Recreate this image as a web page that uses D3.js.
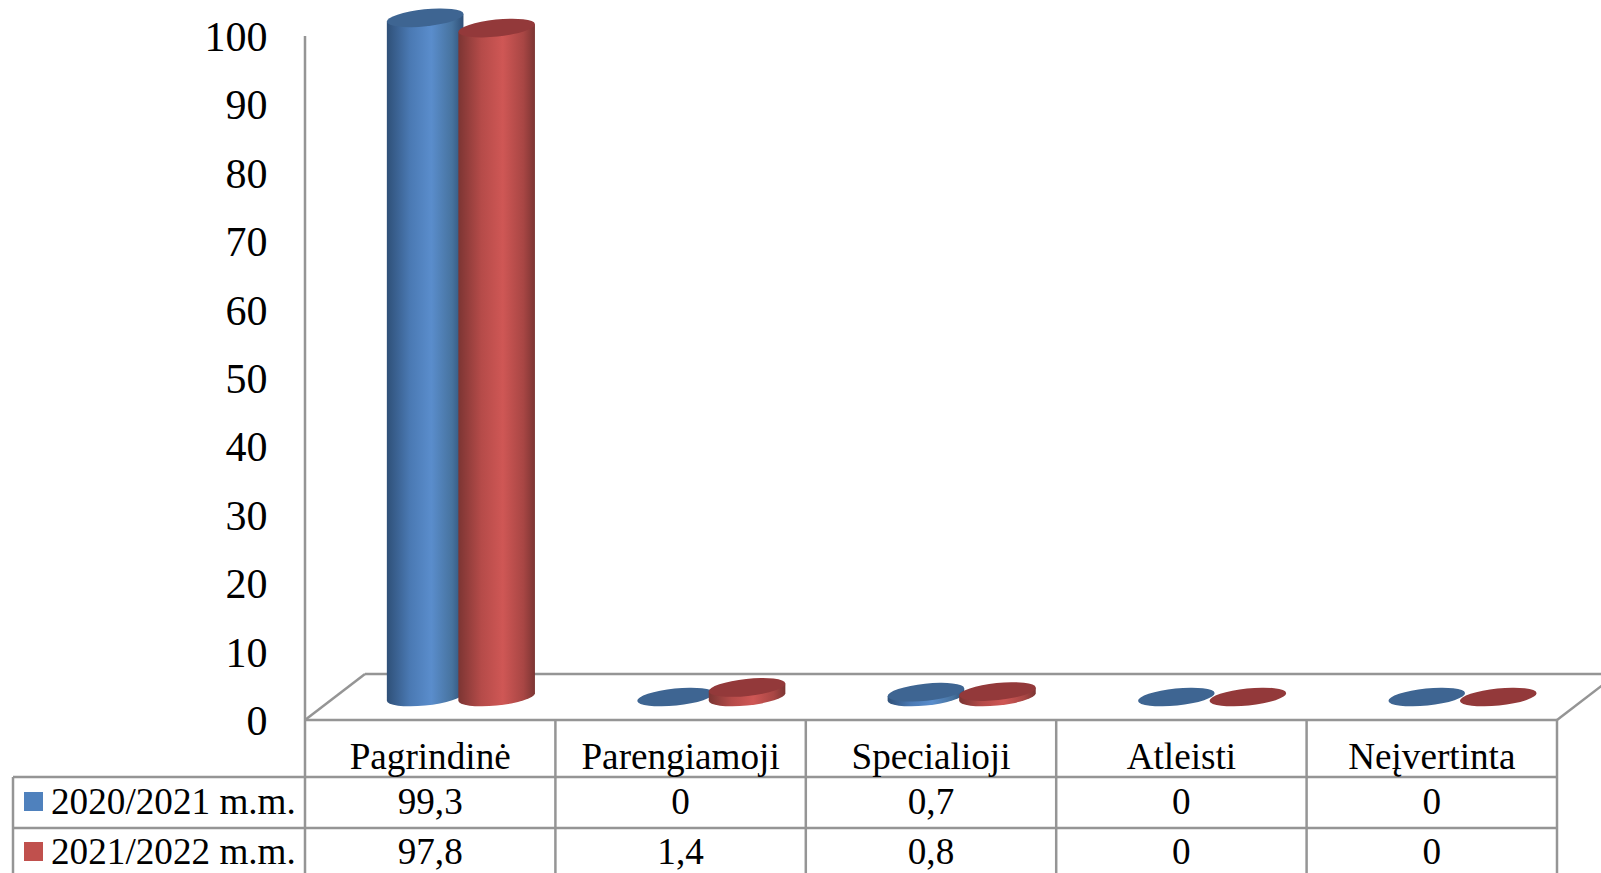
<!DOCTYPE html>
<html>

<head>
    <meta charset="utf-8">
    <title>Chart</title>
    <script src="https://cdn.jsdelivr.net/npm/d3@7"></script>
    <style>
        html, body { margin: 0; padding: 0; background: #fff; overflow: hidden; }
        text { font-family: "Liberation Serif", serif; fill: #000; }
    </style>
</head>

<body>
    <svg width="1601" height="873" id="mainsvg" style="display: block;"></svg>
    <script>
        const categories = ['Pagrindinė', 'Parengiamoji', 'Specialioji', 'Atleisti', 'Neįvertinta'];
        const seriesNames = ['2020/2021 m.m.', '2021/2022 m.m.'];
        const series2020 = [99.3, 0, 0.7, 0, 0];
        const series2021 = [97.8, 1.4, 0.8, 0, 0];
        const yTicks = [0, 10, 20, 30, 40, 50, 60, 70, 80, 90, 100];
        const seriesValues = [series2020, series2021];

        const svg = d3.select('svg');
        const width = +svg.attr('width');
        const height = +svg.attr('height');

        const plot = { left: 305, right: 1557, top: 36, bottom: 720 };
        const depth = { x: 60, y: 46 };
        const rows = { top: 777, mid: 828, legendLeft: 13 };
        const gridColor = '#959595';

        const xScale = d3.scaleBand().domain(categories).range([plot.left, plot.right]);
        const yScale = d3.scaleLinear().domain([0, 100]).range([plot.bottom, plot.top]);
        // two touching cylinders inside every category
        const seriesScale = d3.scaleBand().domain([0, 1]).range([0, 143]);
        const seriesOffset = (xScale.bandwidth() - seriesScale.range()[1]) / 2 + 0.7;

        const fills = [
            { stops: ['#2f5078', '#4a79b3', '#5a8dcc', '#47739f', '#2f5078'], top: '#3e6592', key: '#4f81bd' },
            { stops: ['#7c3533', '#b54b49', '#cf5755', '#a84644', '#7c3533'], top: '#93393a', key: '#c0504d' }
        ];

        // gradients for the cylinder sides
        const defs = svg.append('defs');
        fills.forEach((f, i) => {
            defs.append('linearGradient').attr('id', 'side' + i)
                .selectAll('stop').data(f.stops).join('stop')
                .attr('offset', (d, j) => [0, 0.3, 0.58, 0.85, 1][j])
                .attr('stop-color', d => d);
        });

        // floor and table lines
        const grid = svg.append('g').attr('stroke', gridColor).attr('stroke-width', 2.5).attr('fill', 'none');
        const addLine = (x1, y1, x2, y2) => grid.append('line')
            .attr('x1', x1).attr('y1', y1).attr('x2', x2).attr('y2', y2);

        addLine(plot.left, plot.top, plot.left, height);
        addLine(plot.left, plot.bottom, plot.right, plot.bottom);
        addLine(plot.left, plot.bottom, plot.left + depth.x, plot.bottom - depth.y);
        addLine(plot.left + depth.x, plot.bottom - depth.y, width, plot.bottom - depth.y);
        addLine(plot.right, plot.bottom, plot.right + depth.x, plot.bottom - depth.y);
        categories.forEach(c => addLine(xScale(c) + xScale.bandwidth(), plot.bottom, xScale(c) + xScale.bandwidth(), height));
        addLine(rows.legendLeft, rows.top, plot.right, rows.top);
        addLine(rows.legendLeft, rows.mid, plot.right, rows.mid);
        addLine(rows.legendLeft, rows.top, rows.legendLeft, height);

        // y axis labels
        const yAxis = d3.axisLeft(yScale).tickValues(yTicks).tickSize(0).tickPadding(37.5);
        const yAxisGroup = svg.append('g').attr('transform', `translate(${plot.left}, 1)`).call(yAxis);
        yAxisGroup.select('.domain').remove();
        yAxisGroup.selectAll('text').style('font-family', '"Liberation Serif", serif').style('font-size', '42px').attr('fill', '#000');

        // cylinders
        const rx = 38.5, ry = 8.5, tilt = -6;
        const rad = Math.abs(tilt) * Math.PI / 180;
        const edgeX = Math.sqrt(rx * rx * Math.cos(rad) ** 2 + ry * ry * Math.sin(rad) ** 2);
        const edgeY = (rx * rx - ry * ry) * Math.sin(rad) * Math.cos(rad) / edgeX;

        const bars = svg.append('g').attr('transform', `translate(${depth.x / 2}, ${-depth.y / 2})`);
        categories.forEach((c, ci) => {
            seriesValues.forEach((values, si) => {
                const cx = xScale(c) + seriesOffset + seriesScale(si) + seriesScale.bandwidth() / 2;
                const yTop = yScale(values[ci]);
                const yBase = yScale(0);
                if (values[ci] > 0) {
                    bars.append('path')
                        .attr('d', `M${cx - edgeX},${yTop + edgeY} L${cx - edgeX},${yBase + edgeY}
                            A${rx},${ry} ${tilt} 0 0 ${cx + edgeX},${yBase - edgeY}
                            L${cx + edgeX},${yTop - edgeY} Z`)
                        .attr('fill', `url(#side${si})`);
                }
                bars.append('ellipse')
                    .attr('rx', rx).attr('ry', ry)
                    .attr('transform', `translate(${cx}, ${yTop}) rotate(${tilt})`)
                    .attr('fill', fills[si].top);
            });
        });

        // table texts
        const table = svg.append('g').style('font-size', '37.2px');
        table.selectAll('.cat').data(categories).join('text')
            .attr('class', 'cat')
            .attr('x', d => xScale(d) + xScale.bandwidth() / 2)
            .attr('y', 769)
            .attr('text-anchor', 'middle')
            .text(d => d);

        seriesValues.forEach((values, si) => {
            const baseline = si === 0 ? 814 : 864;
            table.selectAll('.val' + si).data(values).join('text')
                .attr('class', 'val' + si)
                .attr('x', (d, i) => xScale(categories[i]) + xScale.bandwidth() / 2)
                .attr('y', baseline)
                .attr('text-anchor', 'middle')
                .text(d => String(d).replace('.', ','));
            table.append('rect')
                .attr('x', 24).attr('y', baseline - 22)
                .attr('width', 19).attr('height', 19)
                .attr('fill', fills[si].key);
            table.append('text')
                .attr('x', 51).attr('y', baseline)
                .text(seriesNames[si]);
        });
    </script>
</body>

</html>
